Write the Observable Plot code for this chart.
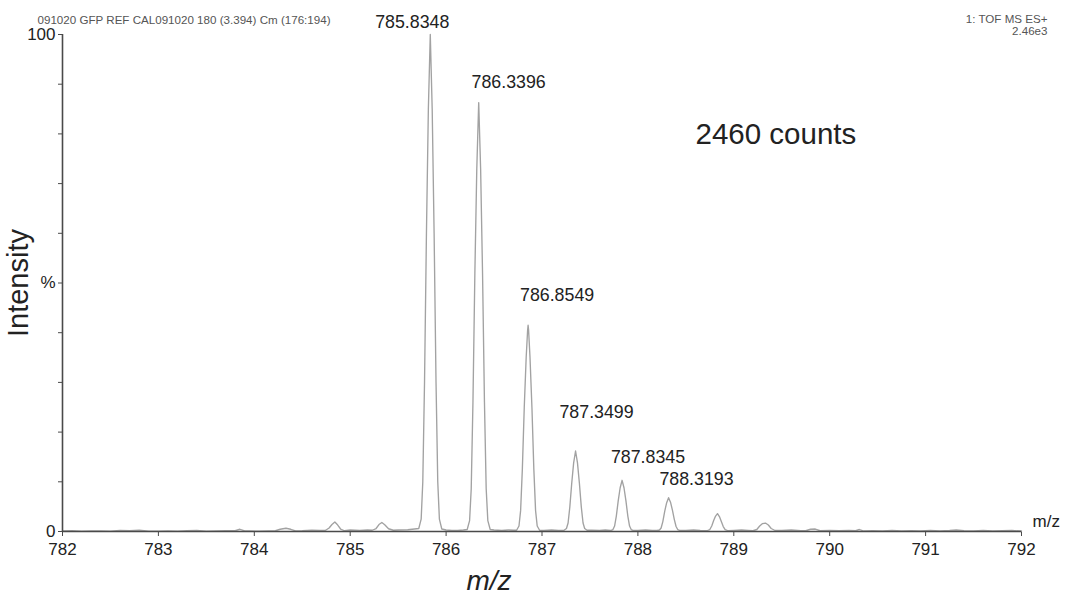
<!DOCTYPE html>
<html>
<head>
<meta charset="utf-8">
<script src="https://cdn.jsdelivr.net/npm/d3@7"></script>
<script src="https://cdn.jsdelivr.net/npm/@observablehq/plot@0.6"></script>
<style>
  html, body { margin: 0; padding: 0; background: #fff; }
  svg { display: block; }
</style>
</head>
<body>
<div id="chart"></div>
<script>
// ---- Data ----
const spectrumMz = [
  782.00, 782.10, 782.20, 782.30, 782.40, 782.50, 782.60, 782.70, 782.80, 782.90,
  783.00, 783.10, 783.20, 783.30, 783.40, 783.50, 783.60, 783.70, 783.80, 783.85, 783.90,
  783.95, 784.05, 784.15, 784.22, 784.27, 784.33, 784.38, 784.43, 784.50, 784.60, 784.68,
  784.74, 784.78, 784.81, 784.84, 784.87, 784.90, 784.94, 785.00, 785.10, 785.18,
  785.23, 785.27, 785.30, 785.33, 785.36, 785.40, 785.45, 785.50, 785.60, 785.67,
  785.715, 785.74, 785.757, 785.775, 785.795, 785.815, 785.835, 785.855, 785.875, 785.895, 785.913, 785.93, 785.955,
  786.00, 786.06, 786.12, 786.18,
  786.22, 786.245, 786.262, 786.28, 786.30, 786.32, 786.34, 786.36, 786.38, 786.40, 786.418, 786.435, 786.46,
  786.50, 786.58, 786.65, 786.70,
  786.735, 786.76, 786.777, 786.795, 786.815, 786.835, 786.85, 786.855, 786.86, 786.875, 786.895, 786.915, 786.933, 786.95, 786.975,
  787.02, 787.10, 787.17,
  787.23, 787.255, 787.272, 787.29, 787.31, 787.33, 787.35, 787.37, 787.39, 787.41, 787.428, 787.445, 787.47,
  787.52, 787.60, 787.66,
  787.715, 787.74, 787.757, 787.775, 787.795, 787.815, 787.835, 787.855, 787.875, 787.895, 787.913, 787.93, 787.955,
  788.00, 788.08, 788.15,
  788.20, 788.225, 788.242, 788.26, 788.28, 788.30, 788.32, 788.34, 788.36, 788.38, 788.398, 788.415, 788.44,
  788.50, 788.58, 788.65,
  788.72, 788.75, 788.77, 788.79, 788.81, 788.83, 788.85, 788.87, 788.89, 788.91, 788.94,
  789.00, 789.08, 789.15,
  789.20, 789.24, 789.27, 789.30, 789.33, 789.36, 789.39, 789.43,
  789.50, 789.60, 789.70,
  789.75, 789.80, 789.85, 789.90,
  790.00, 790.10, 790.20, 790.27, 790.31, 790.35,
  790.45, 790.55, 790.65, 790.75, 790.85, 790.95, 791.05, 791.15, 791.25, 791.32, 791.40,
  791.50, 791.60, 791.70, 791.80, 791.90, 792.00
];
const spectrumIntensity = [
  0.10, 0.15, 0.08, 0.12, 0.10, 0.05, 0.20, 0.15, 0.25, 0.08,
  0.05, 0.10, 0.06, 0.15, 0.20, 0.08, 0.10, 0.15, 0.15, 0.45, 0.12,
  0.12, 0.05, 0.12, 0.15, 0.45, 0.65, 0.45, 0.12, 0.15, 0.25, 0.20,
  0.20, 0.70, 1.40, 1.90, 1.30, 0.50, 0.15, 0.30, 0.20, 0.30,
  0.25, 0.60, 1.40, 1.80, 1.35, 0.55, 0.25, 0.30, 0.35, 0.50,
  0.60, 2.5, 10, 30, 60, 85, 100, 85, 60, 30, 10, 2.5, 0.50,
  0.30, 0.20, 0.20, 0.30,
  0.40, 2.2, 8.6, 26, 52, 73, 86.3, 73, 52, 26, 8.6, 2.2, 0.40,
  0.30, 0.20, 0.30, 0.25,
  0.25, 1.1, 4.2, 12.5, 25, 35, 40.5, 41.5, 40.6, 35, 25, 12.5, 4.2, 1.1, 0.25,
  0.20, 0.30, 0.20,
  0.25, 0.6, 1.7, 4.9, 9.7, 13.8, 16.2, 13.8, 9.7, 4.9, 1.7, 0.6, 0.25,
  0.25, 0.20, 0.30,
  0.20, 0.4, 1.1, 3.1, 6.2, 8.8, 10.3, 8.8, 6.2, 3.1, 1.1, 0.4, 0.20,
  0.20, 0.30, 0.20,
  0.20, 0.3, 0.7, 2.0, 4.1, 5.8, 6.8, 5.9, 4.3, 2.4, 1.0, 0.4, 0.20,
  0.20, 0.30, 0.20,
  0.15, 0.4, 1.1, 2.2, 3.1, 3.6, 3.0, 2.0, 1.0, 0.4, 0.15,
  0.20, 0.30, 0.20,
  0.15, 0.4, 1.1, 1.6, 1.7, 1.3, 0.6, 0.20,
  0.20, 0.30, 0.15,
  0.15, 0.45, 0.50, 0.15,
  0.20, 0.15, 0.20, 0.15, 0.40, 0.12,
  0.15, 0.10, 0.20, 0.10, 0.15, 0.10, 0.20, 0.10, 0.20, 0.30, 0.15,
  0.10, 0.20, 0.10, 0.15, 0.20, 0.10
];

const peakMz     = [785.8348, 786.3396, 786.8549, 787.3499, 787.8345, 788.3193];
const peakHeight = [100, 86.3, 41.5, 16.2, 10.3, 6.8];
const peakLabels = ["785.8348", "786.3396", "786.8549", "787.3499", "787.8345", "788.3193"];

const xTicks = [782, 783, 784, 785, 786, 787, 788, 789, 790, 791, 792];
const yTicks = [0, 10, 20, 30, 40, 50, 60, 70, 80, 90, 100];
const yTickLabels = ["0", "", "", "", "", "%", "", "", "", "", "100"];

const headerLeft = "091020 GFP REF CAL091020 180 (3.394) Cm (176:194)";
const headerRight1 = "1: TOF MS ES+";
const headerRight2 = "2.46e3";
const countsNote = "2460 counts";
const xUnit = "m/z";
const xTitle = "m/z";
const yTitle = "Intensity";

// ---- Label placement (pixel offsets relative to each peak apex) ----
const labelDx = [-18, 30, 29, 21, 26, 28];
const labelDy = [-12, -20, -30, -39, -23, -18];

const idx = spectrumMz.map((_, i) => i);
const font = "'Liberation Sans', Arial, Helvetica, sans-serif";
const axisColor = "#4a4a4a";
const textColor = "#222";

const labelMarks = peakLabels.map((lab, i) =>
  Plot.text([i], {
    x: j => peakMz[j], y: j => peakHeight[j], text: j => peakLabels[j],
    dx: labelDx[i], dy: labelDy[i], fontSize: 17.8, fill: textColor, textAnchor: "middle"
  })
);

const chart = Plot.plot({
  width: 1068,
  height: 598,
  marginLeft: 62,
  marginRight: 47,
  marginTop: 34,
  marginBottom: 67,
  style: { fontFamily: font, background: "#fff", overflow: "visible" },
  x: { domain: [782, 792] },
  y: { domain: [0, 100] },
  marks: [
    Plot.axisX({
      ticks: xTicks, tickFormat: d => String(d), tickSize: 5, tickPadding: 6,
      fontSize: 17, label: null, color: axisColor, fill: textColor
    }),
    Plot.axisY({
      ticks: yTicks, tickFormat: d => yTickLabels[yTicks.indexOf(d)], tickSize: 4, tickPadding: 3,
      fontSize: 17, label: null, color: axisColor, fill: textColor
    }),
    Plot.line(idx, {
      x: i => spectrumMz[i], y: i => spectrumIntensity[i],
      stroke: "#a2a2a2", strokeWidth: 1.35, curve: "linear"
    }),
    Plot.ruleY([0], { stroke: axisColor, strokeWidth: 1.6 }),
    Plot.ruleX([782], { stroke: axisColor, strokeWidth: 1.6 }),
    ...labelMarks,
    Plot.text([countsNote], {
      frameAnchor: "top-left", dx: 633, dy: 89, text: d => d,
      fontSize: 29.5, fill: textColor, textAnchor: "start"
    }),
    Plot.text([xUnit], {
      frameAnchor: "bottom-right", dx: 11, dy: -5, text: d => d,
      fontSize: 17, fill: textColor, textAnchor: "start"
    }),
    Plot.text([xTitle], {
      frameAnchor: "bottom", dx: -53, dy: 58, text: d => d,
      fontSize: 28, fontStyle: "italic", fill: textColor, textAnchor: "middle"
    }),
    Plot.text([yTitle], {
      frameAnchor: "left", dx: -44, dy: 0, rotate: -90, text: d => d,
      fontSize: 29, fill: textColor, textAnchor: "middle"
    }),
    Plot.text([headerLeft], {
      frameAnchor: "top-left", dx: -25, dy: -19, text: d => d,
      fontSize: 11.6, fill: "#555", textAnchor: "start"
    }),
    Plot.text([headerRight1], {
      frameAnchor: "top-right", dx: 26, dy: -20, text: d => d,
      fontSize: 11.6, fill: "#555", textAnchor: "end"
    }),
    Plot.text([headerRight2], {
      frameAnchor: "top-right", dx: 26, dy: -8, text: d => d,
      fontSize: 11.6, fill: "#555", textAnchor: "end"
    })
  ]
});
document.getElementById("chart").appendChild(chart);
</script>
</body>
</html>
